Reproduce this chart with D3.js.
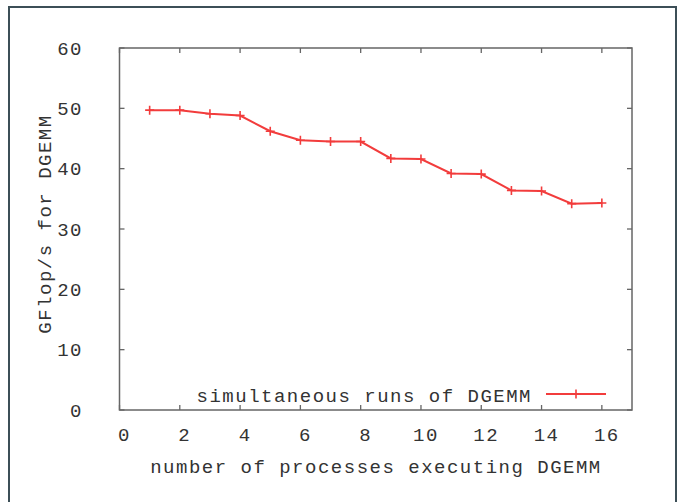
<!DOCTYPE html>
<html>
<head>
<meta charset="utf-8">
<script src="https://cdn.jsdelivr.net/npm/d3@7"></script>
<style>
  body { margin: 0; background: #fff; }
  text { font-family: "Liberation Mono", "DejaVu Sans Mono", monospace; fill: #333; }
</style>
</head>
<body>
<svg id="chart" width="680" height="502"></svg>
<script>
// data
const procs = [1, 2, 3, 4, 5, 6, 7, 8, 9, 10, 11, 12, 13, 14, 15, 16];
const gflops = [49.7, 49.7, 49.1, 48.8, 46.2, 44.7, 44.5, 44.5, 41.7, 41.6, 39.2, 39.1, 36.4, 36.3, 34.2, 34.3];
const xTicks = [0, 2, 4, 6, 8, 10, 12, 14, 16];
const yTicks = [0, 10, 20, 30, 40, 50, 60];
const seriesName = "simultaneous runs of DGEMM";

const svg = d3.select("#chart");
const axisColor = "#666";
const lineColor = "#f23c3c";
const fontSize = 19, spacing = 1.5;

// outer frame (open at the bottom)
svg.append("path")
    .attr("d", "M9,502 L9,7 L676,7 L676,502")
    .attr("fill", "none")
    .attr("stroke", "#3c4f57")
    .attr("stroke-width", 2);

const plotL = 119.5, plotR = 632, plotT = 48, plotB = 410;

const x = d3.scaleLinear().domain([0, 17]).range([plotL, plotR]);
const y = d3.scaleLinear().domain([0, 60]).range([plotB, plotT]);

// plot box
svg.append("rect")
    .attr("x", plotL).attr("y", plotT)
    .attr("width", plotR - plotL).attr("height", plotB - plotT)
    .attr("fill", "none").attr("stroke", axisColor).attr("stroke-width", 1.5);

// inward ticks on all four sides
const tickLen = 5;
xTicks.forEach(t => {
    svg.append("line").attr("x1", x(t)).attr("x2", x(t)).attr("y1", plotB).attr("y2", plotB - tickLen)
        .attr("stroke", axisColor).attr("stroke-width", 1.3);
    svg.append("line").attr("x1", x(t)).attr("x2", x(t)).attr("y1", plotT).attr("y2", plotT + tickLen)
        .attr("stroke", axisColor).attr("stroke-width", 1.3);
    svg.append("text")
        .attr("x", x(t) + 5).attr("y", 434)
        .attr("dy", "0.35em")
        .attr("text-anchor", "middle")
        .style("font-size", fontSize + "px")
        .style("letter-spacing", spacing + "px")
        .text(t);
});
yTicks.forEach(t => {
    svg.append("line").attr("x1", plotL).attr("x2", plotL + tickLen).attr("y1", y(t)).attr("y2", y(t))
        .attr("stroke", axisColor).attr("stroke-width", 1.3);
    svg.append("line").attr("x1", plotR).attr("x2", plotR - tickLen).attr("y1", y(t)).attr("y2", y(t))
        .attr("stroke", axisColor).attr("stroke-width", 1.3);
    svg.append("text")
        .attr("x", 83).attr("y", y(t))
        .attr("dy", "0.35em")
        .attr("text-anchor", "end")
        .style("font-size", fontSize + "px")
        .style("letter-spacing", spacing + "px")
        .text(t);
});

// axis titles
svg.append("text")
    .attr("x", 376).attr("y", 466)
    .attr("dy", "0.35em")
    .attr("text-anchor", "middle")
    .style("font-size", fontSize + "px")
    .style("letter-spacing", spacing + "px")
    .text("number of processes executing DGEMM");

svg.append("text")
    .attr("transform", "translate(44,224) rotate(-90)")
    .attr("dy", "0.35em")
    .attr("text-anchor", "middle")
    .style("font-size", fontSize + "px")
    .style("letter-spacing", spacing + "px")
    .text("GFlop/s for DGEMM");

// series
const pts = procs.map((p, i) => [p, gflops[i]]);
svg.append("path")
    .datum(pts)
    .attr("fill", "none")
    .attr("stroke", lineColor)
    .attr("stroke-width", 2)
    .attr("d", d3.line().x(d => x(d[0])).y(d => y(d[1])));

const plus = (cx, cy, r) => `M${cx - r},${cy} L${cx + r},${cy} M${cx},${cy - r} L${cx},${cy + r}`;
svg.append("g").selectAll("path")
    .data(pts)
    .join("path")
    .attr("d", d => plus(x(d[0]), y(d[1]), 4.5))
    .attr("stroke", lineColor)
    .attr("stroke-width", 1.6);

// legend
svg.append("text")
    .attr("x", 532).attr("y", 395)
    .attr("dy", "0.35em")
    .attr("text-anchor", "end")
    .style("font-size", fontSize + "px")
    .style("letter-spacing", spacing + "px")
    .text(seriesName);
svg.append("line")
    .attr("x1", 546).attr("x2", 606).attr("y1", 394).attr("y2", 394)
    .attr("stroke", lineColor).attr("stroke-width", 2);
svg.append("path")
    .attr("d", plus(576, 394, 4.5))
    .attr("stroke", lineColor).attr("stroke-width", 1.6);
</script>
</body>
</html>
